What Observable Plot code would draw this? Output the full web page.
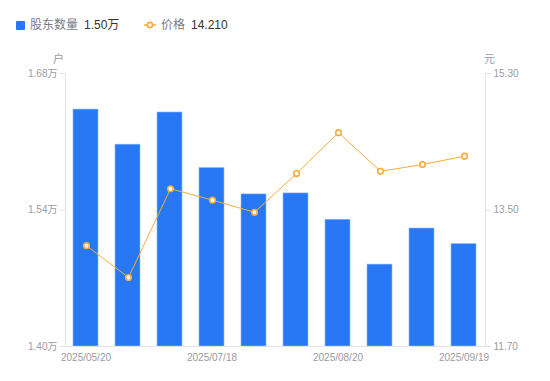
<!DOCTYPE html>
<html><head><meta charset="utf-8">
<script src="https://cdn.jsdelivr.net/npm/d3@7"></script>
<script src="https://cdn.jsdelivr.net/npm/@observablehq/plot@0.6"></script>
<style>
body{margin:0;background:#fff;font-family:"Liberation Sans","Noto Sans CJK SC",sans-serif;}
#wrap{position:relative;width:550px;height:381px;}
#wrap svg{position:absolute;left:0;top:0;background:transparent;}
.lg{position:absolute;top:17px;font-size:12px;line-height:16px;white-space:nowrap;}
.lg .k{color:#7b7b86;}
.lg .v{color:#333;margin-left:6px;}
.unit{position:absolute;top:50px;font-size:11px;color:#9a9aa6;}
</style></head>
<body><div id="wrap">
<div class="lg" style="left:16px;"><span style="display:inline-block;width:9px;height:9px;background:#2878f5;border-radius:1px;vertical-align:-1px;margin-right:5px;"></span><span class="k">股东数量</span><span class="v">1.50万</span></div>
<div class="lg" style="left:144px;"><svg width="12" height="10" style="position:relative;vertical-align:-1px;margin-right:5px;"><line x1="0" y1="5" x2="12" y2="5" stroke="#f7ac3a" stroke-width="1.5"/><circle cx="6" cy="5" r="2.6" fill="#fff" stroke="#f7ac3a" stroke-width="1.6"/></svg><span class="k">价格</span><span class="v">14.210</span></div>
<div class="unit" style="left:53px;">户</div>
<div class="unit" style="left:484px;">元</div>
</div>
<script>
const dates = ["2025/05/20","2025/06/10","2025/06/30","2025/07/18","2025/07/31","2025/08/10","2025/08/20","2025/08/31","2025/09/10","2025/09/19"];
const holders = [1.643,1.607,1.640,1.583,1.556,1.557,1.530,1.484,1.521,1.505];
const prices = [13.03,12.61,13.78,13.63,13.47,13.98,14.52,14.01,14.10,14.21];
const dateTicks = ["2025/05/20","2025/07/18","2025/08/20","2025/09/19"];
const holderTicks = [1.40,1.54,1.68];
const priceTicks = [11.70,13.50,15.30];

const data = dates.map((d,i)=>({date:d, holders:holders[i], price:prices[i]}));
const common = {
  width:550, height:381, marginTop:73, marginBottom:35, marginLeft:65, marginRight:65,
  style:{fontSize:"10px", fontFamily:"Liberation Sans, Noto Sans CJK SC, sans-serif", color:"#9a9aa6", background:"transparent"},
  x:{domain:dates, paddingInner:0.4, paddingOuter:0.2}
};
const axisColor = "#e2e2e8";
const p1 = Plot.plot({
  ...common,
  y:{domain:[1.40,1.68]},
  marks:[
    Plot.barY(data,{x:"date", y1:()=>holderTicks[0], y2:"holders", fill:"#2878f5", stroke:"#8db5fa", strokeWidth:0.6}),
    Plot.frame({anchor:"left", stroke:axisColor}),
    Plot.frame({anchor:"bottom", stroke:axisColor}),
    Plot.axisY({ticks:holderTicks, tickFormat:d=>d.toFixed(2)+"万", tickSize:5, tickPadding:3, label:null, stroke:axisColor, fill:"#9a9aa6"}),
    Plot.axisX({ticks:dateTicks, tickSize:0, tickPadding:7, label:null, fill:"#9a9aa6"})
  ]
});
const p2 = Plot.plot({
  ...common,
  y:{domain:[11.70,15.30]},
  marks:[
    Plot.frame({anchor:"right", stroke:axisColor}),
    Plot.axisY({anchor:"right", ticks:priceTicks, tickFormat:d=>d.toFixed(2), tickSize:5, tickPadding:3, label:null, stroke:axisColor, fill:"#9a9aa6"}),
    Plot.axisX({ticks:[], label:null}),
    Plot.lineY(data,{x:"date", y:"price", stroke:"#f7ac3a", strokeWidth:1}),
    Plot.dot(data,{x:"date", y:"price", r:2.8, fill:"#fff", stroke:"#f7ac3a", strokeWidth:1.6})
  ]
});
const w = document.getElementById("wrap");
w.appendChild(p1); w.appendChild(p2);
</script></body></html>
